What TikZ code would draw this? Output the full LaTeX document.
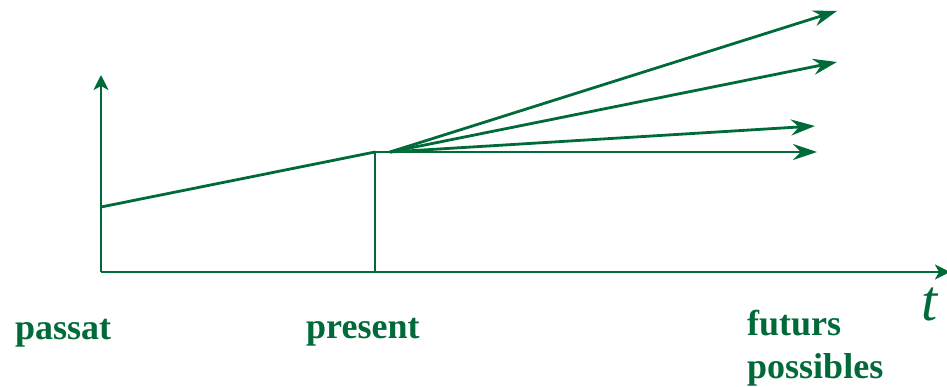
\documentclass[tikz,border=0pt]{standalone}
\usepackage{fontspec}
\setmainfont{Liberation Serif}
\usetikzlibrary{arrows.meta}
\definecolor{green700}{HTML}{006B38}
\tikzset{
  axis/.style  ={draw=green700, line width=2.8pt,
                 -{Stealth[length=15pt, width=15pt, inset=4pt]}},
  trend/.style ={draw=green700, line width=2.8pt},
  fan/.style   ={draw=green700, line width=2.8pt,
                 -{Stealth[length=24pt, width=16pt, inset=8pt]}},
  lbl/.style   ={anchor=base west, inner sep=0pt, text=green700,
                 font=\fontsize{36}{43}\selectfont\bfseries},
  var/.style   ={anchor=base west, inner sep=0pt, text=green700,
                 font=\fontsize{58}{58}\selectfont\itshape}
}

\begin{document}
\begin{tikzpicture}[x=1pt, y=-1pt]
\useasboundingbox (0,0) rectangle (947,387);
% axes
\coordinate (O)    at (101,272);
\coordinate (ytop) at (101,75);
\coordinate (xend) at (950,272);
\draw[axis] (O) -- (ytop);
\draw[axis] (O) -- (xend);
% past trend up to now
\coordinate (past) at (101,207);
\coordinate (now)  at (375,152);
\coordinate (nowt) at (375,272);
\draw[trend] (past) -- (now);
\draw[trend] (nowt) -- (now);
% possible futures
\coordinate (fan) at (390,152);
\coordinate (f1)  at (837,11);
\coordinate (f2)  at (837,62);
\coordinate (f3)  at (815,126);
\coordinate (f4)  at (817,152);
\foreach \name in {f1,f2,f3}
  \draw[fan] (fan) -- (\name);
\draw[fan] (now) -- (f4);
% labels
\node[lbl] (passat)    at (15,339)  {passat};
\node[lbl] (present)   at (306,338) {present};
\node[lbl] (futurs)    at (747,335) {futurs};
\node[lbl] (possibles) at (747,378) {possibles};
\node[var] (t)         at (921,320) {t};
\end{tikzpicture}
\end{document}
